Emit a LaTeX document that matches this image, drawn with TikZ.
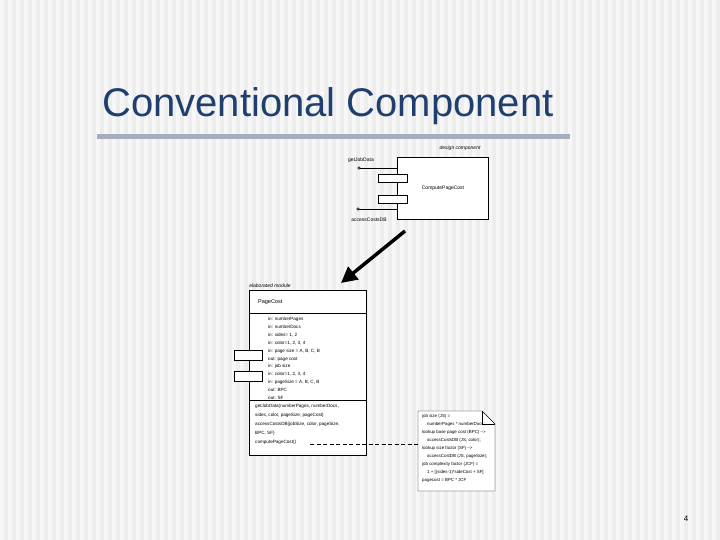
\documentclass[tikz,border=0pt]{standalone}
\usepackage{fontspec}
\setmainfont{Liberation Sans}
\usetikzlibrary{arrows.meta}
\definecolor{titlec}{HTML}{1F3F6F}
\definecolor{rulec}{HTML}{A4AEBE}
\begin{document}
\begin{tikzpicture}[x=1pt,y=-1pt,
  tiny/.style={font=\fontsize{4.6}{5}\selectfont,inner sep=0pt},
  box/.style={draw,fill=white,line width=0.5pt},
  port/.style={draw,fill=white,line width=0.5pt}]
\useasboundingbox (0,0) rectangle (720,540);
\fill[gray!14] (0,0) rectangle (720,540);
\foreach \i in {0,8,...,720}{\fill[gray!6] (\i,0) rectangle (\i+4,540);}
\node[anchor=base west,inner sep=0pt,font=\fontsize{40}{42}\selectfont,text=titlec] (title) at (102,117) {Conventional Component};
\draw[line width=5pt,color=rulec] (97,137) -- (570,137);
% design component
\node[anchor=base,tiny,font=\itshape\fontsize{5}{5}\selectfont] (dlab) at (460,150) {design component};
\node[box,minimum width=91pt,minimum height=62pt,anchor=north west,inner sep=0pt] (dc) at (397,157) {};
\node[tiny,font=\fontsize{5}{5}\selectfont] (dcn) at (443,188) {ComputePageCost};
\node[port,minimum width=29pt,minimum height=8pt,inner sep=0pt] (p1) at (393,178) {};
\node[port,minimum width=29pt,minimum height=8pt,inner sep=0pt] (p2) at (393,199) {};
\node[draw,circle,inner sep=0.9pt,fill=white] (c1) at (359,168) {};
\node[draw,circle,inner sep=0.9pt,fill=white] (c2) at (358,209) {};
\coordinate (e1) at (397,168); \coordinate (e2) at (397,209);
\draw (c1) -- (e1); \draw (c2) -- (e2);
\node[tiny,font=\fontsize{5}{5}\selectfont,anchor=base] (l1) at (361,162) {getJobData};
\node[tiny,font=\fontsize{5}{5}\selectfont,anchor=base] (l2) at (369,222) {accessCostsDB};
% arrow
\coordinate (a1) at (405,231); \coordinate (a2) at (341,283);
\draw[line width=3.5pt,-{Triangle[length=16pt,width=16pt]}] (a1) -- (a2);
% module
\node[anchor=base,tiny,font=\itshape\fontsize{5}{5}\selectfont] (mlab) at (270,287) {elaborated module};
\node[box,minimum width=117pt,minimum height=165pt,anchor=north west,inner sep=0pt] (mod) at (249,290) {};
\draw (249,313) -- (366,313); \draw (249,400) -- (366,400);
\node[tiny,font=\fontsize{5.5}{5}\selectfont,anchor=west] (mname) at (258,302) {PageCost};
\node[port,minimum width=28pt,minimum height=10pt,inner sep=0pt] (q1) at (248,355) {};
\node[port,minimum width=28pt,minimum height=10pt,inner sep=0pt] (q2) at (248,376) {};
\node[tiny,anchor=north west,align=left,font=\fontsize{4.6}{7.9}\selectfont] (attr) at (268,317) {in: numberPages\\in: numberDocs\\in: sides= 1, 2\\in: color=1, 2, 3, 4\\in: page size = A, B, C, B\\out: page cost\\in: job size\\in: color=1, 2, 3, 4\\in: pageSize = A, B, C, B\\out: BPC\\out: SF};
\node[tiny,anchor=north west,align=left,font=\fontsize{4.6}{9}\selectfont] (ops) at (255,404) {getJobData(numberPages, numberDocs,\\sides, color, pageSize, pageCost)\\accessCostsDB(jobSize, color, pageSize,\\BPC, SF)\\computePageCost()};
% note
\draw[fill=white] (418,411) -- (482,411) -- (495,424) -- (495,491) -- (418,491) -- cycle;
\draw (482,411) -- (482,424) -- (495,424);
\node[tiny,anchor=north west,align=left,font=\fontsize{4.4}{8}\selectfont] (note) at (422,414) {job size (JS) =\\\hspace*{5pt}numberPages * numberDocs;\\lookup base page cost (BPC) -->\\\hspace*{5pt}accessCostsDB (JS, color);\\lookup size factor (SF) -->\\\hspace*{5pt}accessCostDB (JS, pageSize);\\job complexity factor (JCF) =\\\hspace*{5pt}1 + [(sides-1)*sideCost + SF]\\pagecost = BPC * JCF};
\coordinate (d1) at (310,444); \coordinate (d2) at (418,444);
\draw[dash pattern=on 4pt off 2.5pt] (d1) -- (d2);
\node[font=\fontsize{8}{8}\selectfont] (pg) at (686,519) {4};
\end{tikzpicture}
\end{document}
